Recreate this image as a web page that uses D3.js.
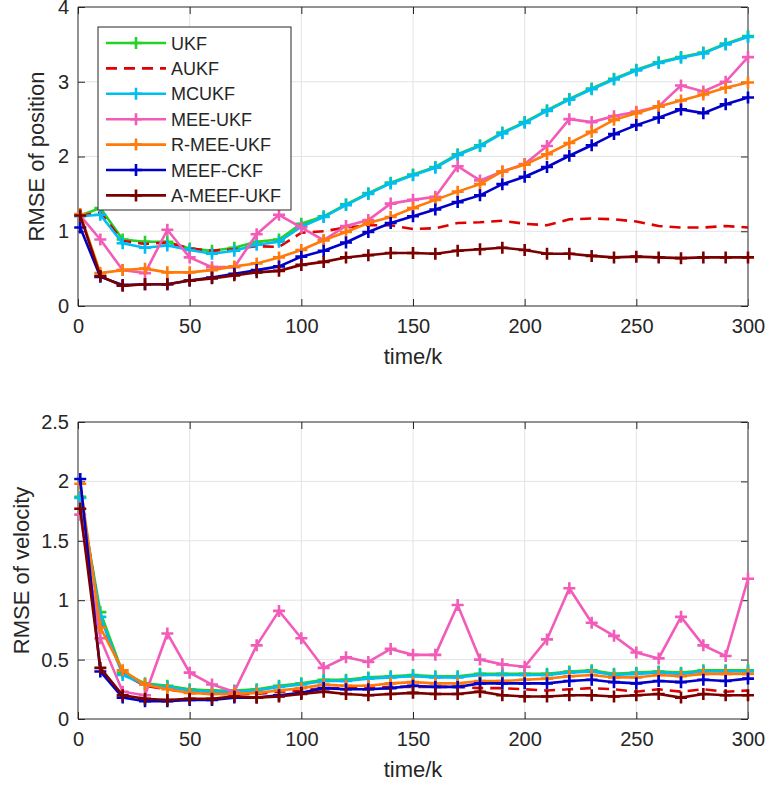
<!DOCTYPE html>
<html>
<head>
<meta charset="utf-8">
<script src="https://cdnjs.cloudflare.com/ajax/libs/d3/7.8.5/d3.min.js"></script>
<style>
  body { margin: 0; background: #fff; }
  text { font-family: "Liberation Sans", Arial, Helvetica, sans-serif; fill: #262626; }
  .grid line { stroke: #e3e3e3; stroke-width: 1; }
</style>
</head>
<body>
<div id="chart"></div>
<script>
// x positions (time steps with markers)
var steps = [1,10,20,30,40,50,60,70,80,90,100,110,120,130,140,150,160,170,180,190,200,210,220,230,240,250,260,270,280,290,300];

var seriesNames = ["UKF","AUKF","MCUKF","MEE-UKF","R-MEE-UKF","MEEF-CKF","A-MEEF-UKF"];

// RMSE of position
var posUKF   = [1.21,1.31,0.89,0.86,0.86,0.77,0.74,0.78,0.86,0.89,1.10,1.20,1.36,1.51,1.65,1.76,1.86,2.03,2.15,2.32,2.46,2.62,2.77,2.91,3.04,3.16,3.26,3.33,3.39,3.51,3.61];
var posAUKF  = [1.21,1.25,0.87,0.83,0.85,0.77,0.74,0.76,0.80,0.79,0.98,1.00,1.05,1.08,1.08,1.03,1.04,1.11,1.12,1.14,1.10,1.08,1.16,1.17,1.16,1.13,1.07,1.05,1.05,1.07,1.05];
var posMCUKF = [1.20,1.22,0.84,0.78,0.81,0.75,0.70,0.74,0.82,0.86,1.06,1.19,1.35,1.50,1.64,1.75,1.85,2.02,2.14,2.31,2.45,2.61,2.76,2.90,3.03,3.15,3.25,3.32,3.38,3.50,3.60];
var posMEE   = [1.21,0.89,0.48,0.44,1.02,0.65,0.52,0.52,0.96,1.22,1.05,0.88,1.07,1.15,1.37,1.42,1.46,1.87,1.68,1.80,1.90,2.14,2.50,2.46,2.54,2.60,2.67,2.95,2.87,3.00,3.33];
var posRMEE  = [1.23,0.44,0.48,0.50,0.45,0.45,0.48,0.53,0.57,0.65,0.75,0.88,0.99,1.11,1.19,1.31,1.42,1.53,1.63,1.80,1.89,2.03,2.18,2.33,2.49,2.58,2.67,2.75,2.83,2.92,2.99];
var posMEEF  = [1.05,0.39,0.28,0.29,0.29,0.34,0.38,0.43,0.48,0.53,0.66,0.74,0.85,0.99,1.11,1.20,1.29,1.39,1.48,1.63,1.73,1.86,2.01,2.15,2.30,2.42,2.52,2.63,2.58,2.70,2.79];
var posAMEEF = [1.21,0.40,0.27,0.29,0.29,0.34,0.37,0.41,0.45,0.47,0.55,0.59,0.65,0.68,0.71,0.71,0.70,0.74,0.76,0.78,0.75,0.70,0.70,0.67,0.65,0.66,0.65,0.64,0.65,0.65,0.65];

// RMSE of velocity
var velUKF   = [1.87,0.90,0.39,0.30,0.28,0.25,0.24,0.24,0.25,0.28,0.30,0.33,0.33,0.35,0.36,0.37,0.36,0.36,0.38,0.38,0.38,0.38,0.40,0.41,0.38,0.39,0.40,0.39,0.41,0.41,0.41];
var velAUKF  = [1.90,0.84,0.38,0.28,0.25,0.22,0.21,0.21,0.21,0.23,0.24,0.26,0.26,0.26,0.27,0.27,0.27,0.27,0.26,0.26,0.25,0.24,0.25,0.26,0.25,0.23,0.25,0.23,0.25,0.23,0.24];
var velMCUKF = [1.86,0.86,0.37,0.29,0.27,0.24,0.23,0.23,0.24,0.27,0.29,0.32,0.32,0.34,0.35,0.36,0.35,0.35,0.37,0.37,0.37,0.37,0.39,0.40,0.37,0.38,0.39,0.38,0.40,0.40,0.40];
var velMEE   = [1.72,0.68,0.23,0.20,0.72,0.39,0.29,0.23,0.62,0.91,0.68,0.43,0.52,0.48,0.59,0.54,0.54,0.96,0.50,0.46,0.44,0.67,1.10,0.81,0.70,0.56,0.51,0.86,0.62,0.53,1.18];
var velRMEE  = [1.98,0.77,0.41,0.29,0.25,0.22,0.21,0.21,0.22,0.24,0.26,0.29,0.28,0.28,0.30,0.31,0.30,0.30,0.32,0.32,0.33,0.34,0.36,0.37,0.35,0.35,0.37,0.36,0.38,0.38,0.38];
var velMEEF  = [2.02,0.40,0.18,0.15,0.15,0.16,0.16,0.18,0.18,0.20,0.22,0.26,0.25,0.25,0.26,0.28,0.27,0.27,0.30,0.30,0.30,0.30,0.32,0.33,0.31,0.30,0.32,0.31,0.33,0.32,0.34];
var velAMEEF = [1.77,0.43,0.20,0.17,0.16,0.17,0.17,0.19,0.18,0.19,0.21,0.23,0.21,0.20,0.21,0.22,0.21,0.21,0.23,0.20,0.19,0.19,0.20,0.20,0.19,0.20,0.21,0.18,0.21,0.20,0.20];

var xTicks = [0,50,100,150,200,250,300];
var posTicks = [0,1,2,3,4];
var velTicks = [0,0.5,1,1.5,2,2.5];

// line styles
var colors = ["#26d026","#e00000","#00bdf2","#f25cb8","#ff7a0a","#0000c8","#7a0000"];
var dashed = [false,true,false,false,false,false,false];

var width = 765, height = 789;
var svg = d3.select("#chart").append("svg")
    .attr("width", width)
    .attr("height", height);

var left = 78, right = 748;
var x = d3.scaleLinear().domain([0,300]).range([left, right]);

function plusPath(s) {
  return "M" + (-s) + ",0H" + s + "M0," + (-s) + "V" + s;
}

function styleTicks(a) {
  a.select(".domain").remove();
  a.selectAll("line").attr("stroke", "#262626");
  a.selectAll("text").attr("font-size", 20).attr("fill", "#262626")
    .attr("font-family", "Liberation Sans, Arial, sans-serif");
}

function drawPanel(top, bottom, yMax, yTicks, allSeries, yLabel, labelX) {
  var y = d3.scaleLinear().domain([0, yMax]).range([bottom, top]);
  var g = svg.append("g");

  // grid
  var grid = g.append("g").attr("class", "grid");
  grid.selectAll("line.gx").data(xTicks.slice(1, -1)).enter().append("line")
      .attr("x1", function(d){ return x(d); }).attr("x2", function(d){ return x(d); })
      .attr("y1", top).attr("y2", bottom);
  grid.selectAll("line.gy").data(yTicks.slice(1, -1)).enter().append("line")
      .attr("x1", left).attr("x2", right)
      .attr("y1", function(d){ return y(d); }).attr("y2", function(d){ return y(d); });

  // axes (inward ticks, box)
  g.append("g")
    .attr("transform", "translate(0," + bottom + ")")
    .call(d3.axisBottom(x).tickValues(xTicks).tickSizeInner(-7).tickSizeOuter(0).tickPadding(13))
    .call(styleTicks);
  g.append("g")
    .attr("transform", "translate(0," + top + ")")
    .call(d3.axisTop(x).tickValues(xTicks).tickSizeInner(-7).tickSizeOuter(0).tickFormat(""))
    .call(styleTicks);
  g.append("g")
    .attr("transform", "translate(" + left + ",0)")
    .call(d3.axisLeft(y).tickValues(yTicks).tickSizeInner(-7).tickSizeOuter(0).tickPadding(9).tickFormat(d3.format("")))
    .call(styleTicks);
  g.append("g")
    .attr("transform", "translate(" + right + ",0)")
    .call(d3.axisRight(y).tickValues(yTicks).tickSizeInner(-7).tickSizeOuter(0).tickFormat(""))
    .call(styleTicks);

  g.append("path")
    .attr("d", "M" + left + "," + top + "H" + right)
    .attr("stroke", "#262626").attr("fill", "none");
  g.append("path")
    .attr("d", "M" + right + "," + top + "V" + bottom)
    .attr("stroke", "#6e6e6e").attr("stroke-width", 1.5).attr("fill", "none");
  g.append("path")
    .attr("d", "M" + left + "," + top + "V" + bottom + "H" + right)
    .attr("stroke", "#262626").attr("fill", "none");

  // series
  var line = d3.line()
    .x(function(d, i){ return x(steps[i]); })
    .y(function(d){ return y(d); });

  allSeries.forEach(function(vals, k) {
    var s = g.append("g");
    s.append("path")
      .datum(vals)
      .attr("d", line)
      .attr("fill", "none")
      .attr("stroke", colors[k])
      .attr("stroke-width", 2.6)
      .attr("stroke-dasharray", dashed[k] ? "11,7" : null);
    if (!dashed[k]) {
      s.selectAll("path.mk").data(vals).enter().append("path")
        .attr("class", "mk")
        .attr("d", plusPath(6))
        .attr("transform", function(d, i){ return "translate(" + x(steps[i]) + "," + y(d) + ")"; })
        .attr("stroke", colors[k])
        .attr("stroke-width", 2.6)
        .attr("fill", "none");
    }
  });

  // labels
  svg.append("text")
    .attr("x", (left + right) / 2)
    .attr("y", bottom + 58)
    .attr("text-anchor", "middle")
    .attr("font-size", 22)
    .text("time/k");
  svg.append("text")
    .attr("transform", "translate(" + labelX + "," + ((top + bottom) / 2) + ") rotate(-90)")
    .attr("text-anchor", "middle")
    .attr("font-size", 22)
    .text(yLabel);
}

drawPanel(7, 306, 4, posTicks,
  [posUKF, posAUKF, posMCUKF, posMEE, posRMEE, posMEEF, posAMEEF],
  "RMSE of position", 44);
drawPanel(422, 719, 2.5, velTicks,
  [velUKF, velAUKF, velMCUKF, velMEE, velRMEE, velMEEF, velAMEEF],
  "RMSE of velocity", 29);

// legend
var lg = svg.append("g").attr("transform", "translate(98,27)");
lg.append("rect")
  .attr("width", 193).attr("height", 183)
  .attr("fill", "#fff").attr("stroke", "#262626").attr("stroke-width", 1);
seriesNames.forEach(function(name, k) {
  var yy = 16 + k * 25.4;
  lg.append("line")
    .attr("x1", 8).attr("x2", 68).attr("y1", yy).attr("y2", yy)
    .attr("stroke", colors[k]).attr("stroke-width", 2.6)
    .attr("stroke-dasharray", dashed[k] ? "11,7" : null);
  if (!dashed[k]) {
    lg.append("path")
      .attr("d", plusPath(6))
      .attr("transform", "translate(38," + yy + ")")
      .attr("stroke", colors[k]).attr("stroke-width", 2.6);
  }
  lg.append("text")
    .attr("x", 73).attr("y", yy + 6.5)
    .attr("font-size", 18)
    .text(name);
});
</script>
</body>
</html>
